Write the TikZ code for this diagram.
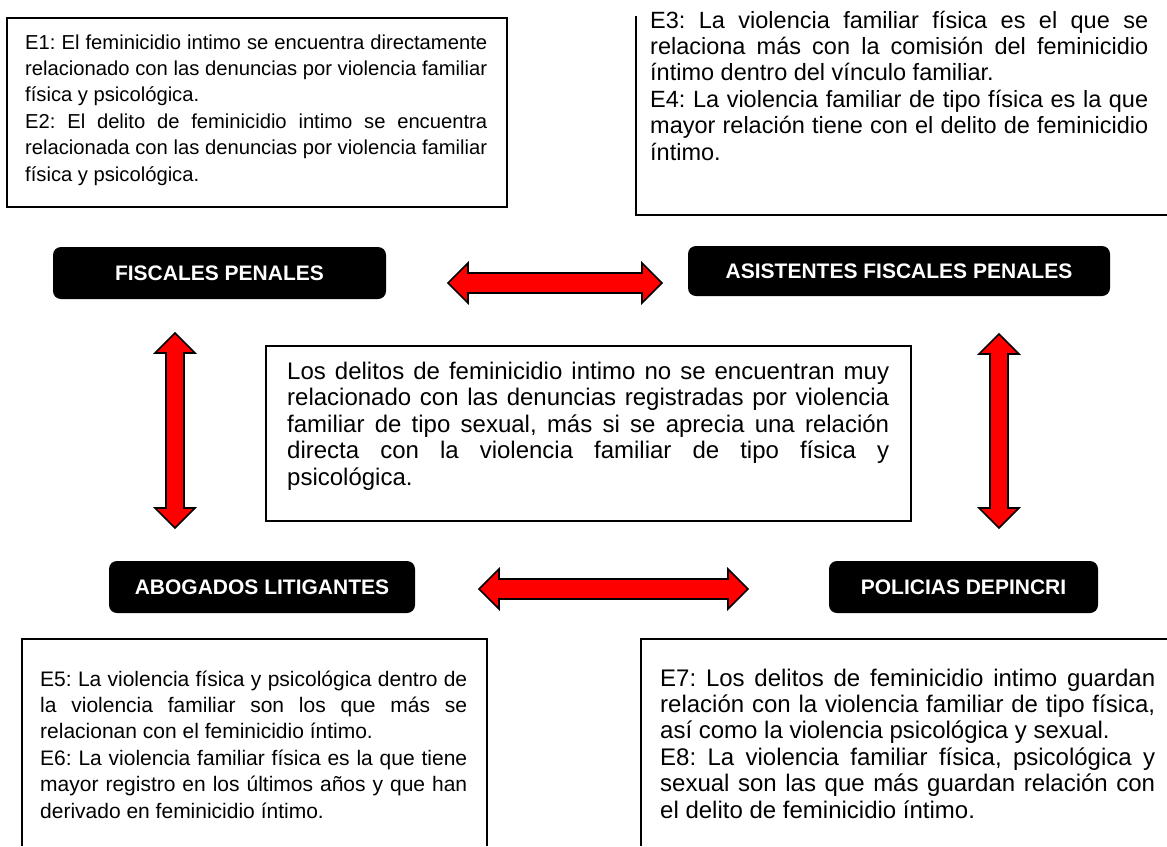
\documentclass[tikz,border=0pt]{standalone}
\usepackage{fontspec}
\setmainfont{Liberation Sans}
\usetikzlibrary{calc}
\hbadness=10000
\frenchspacing
\tikzset{
  txtbox/.style={draw=black, line width=1.6pt, line join=miter},
  lab/.style={fill=black, rounded corners=8pt, text=white, inner sep=0pt,
    font=\bfseries\fontsize{21}{25}\selectfont},
  redarrow/.style={draw=black, fill=red, line width=1.6pt, line join=miter},
  para/.style={anchor=base west, inner sep=0pt},
}
\newcommand\JL[2]{\hbox to #1{#2}}
\newcommand\LL[1]{\hbox{#1}}
\begin{document}
\begin{tikzpicture}[x=1pt,y=-1pt]
\useasboundingbox (0,0) rectangle (1167,846);
\fill[white] (0,0) rectangle (1167,846);

% text boxes
\draw[txtbox] (7,18) rectangle (507,207);
\draw[txtbox] (636,16) -- (636,215) -- (1167,215);
\draw[txtbox] (266,346) rectangle (911,521);
\draw[txtbox] (22,846) -- (22,639) -- (487,639) -- (487,846);
\draw[txtbox] (641,846) -- (641,639) -- (1167,639);

\node[para, font=\fontsize{20.2}{26.4}\selectfont] (t12) at (25,49) {\vtop{%
\JL{462pt}{E1: El feminicidio intimo se encuentra directamente}
\JL{462pt}{relacionado con las denuncias por violencia familiar}
\LL{física y psicológica.}
\JL{462pt}{E2: El delito de feminicidio intimo se encuentra}
\JL{462pt}{relacionada con las denuncias por violencia familiar}
\LL{física y psicológica.}}};

\node[para, font=\fontsize{23.5}{26.4}\selectfont] (t34) at (650,28) {\vtop{%
\JL{498pt}{E3: La violencia familiar física es el que se}
\JL{498pt}{relaciona más con la comisión del feminicidio}
\LL{íntimo dentro del vínculo familiar.}
\JL{498pt}{E4: La violencia familiar de tipo física es la que}
\JL{498pt}{mayor relación tiene con el delito de feminicidio}
\LL{íntimo.}}};

\node[para, font=\fontsize{24}{26.5}\selectfont] (tc) at (287,379) {\vtop{%
\JL{602pt}{Los delitos de feminicidio intimo no se encuentran muy}
\JL{602pt}{relacionado con las denuncias registradas por violencia}
\JL{602pt}{familiar de tipo sexual, más si se aprecia una relación}
\JL{602pt}{directa con la violencia familiar de tipo física y}
\LL{psicológica.}}};

\node[para, font=\fontsize{21}{26.4}\selectfont] (t56) at (40,686) {\vtop{%
\JL{427pt}{E5: La violencia física y psicológica dentro de}
\JL{427pt}{la violencia familiar son los que más se}
\LL{relacionan con el feminicidio íntimo.}
\JL{427pt}{E6: La violencia familiar física es la que tiene}
\JL{427pt}{mayor registro en los últimos años y que han}
\LL{derivado en feminicidio íntimo.}}};

\node[para, font=\fontsize{24}{26.4}\selectfont] (t78) at (660,686) {\vtop{%
\JL{495pt}{E7: Los delitos de feminicidio intimo guardan}
\JL{495pt}{relación con la violencia familiar de tipo física,}
\LL{así como la violencia psicológica y sexual.}
\JL{495pt}{E8: La violencia familiar física, psicológica y}
\JL{495pt}{sexual son las que más guardan relación con}
\LL{el delito de feminicidio íntimo.}}};

% labels
\node[lab, minimum width=333pt, minimum height=52pt] (fp) at (219.5,273) {FISCALES PENALES};
\node[lab, minimum width=422pt, minimum height=50pt] (afp) at (899,271) {ASISTENTES FISCALES PENALES};
\node[lab, minimum width=306pt, minimum height=52pt] (al) at (262,587) {ABOGADOS LITIGANTES};
\node[lab, minimum width=269pt, minimum height=52pt] (pd) at (963.5,587) {POLICIAS DEPINCRI};

% arrow end points
\coordinate (h1a) at (448,283);
\coordinate (h1b) at (662,283);
\coordinate (h2a) at (479,589);
\coordinate (h2b) at (748,589);
\coordinate (v1a) at (175,333);
\coordinate (v1b) at (175,528);
\coordinate (v2a) at (999,334);
\coordinate (v2b) at (999,528);

% horizontal double arrows
\foreach \s/\e in {h1a/h1b, h2a/h2b}{
\draw[redarrow] let \p1=(\s), \p2=(\e) in
  (\x1,\y1) -- (\x1+20pt,\y1+20pt) -- (\x1+20pt,\y1+10pt) -- (\x2-20pt,\y2+10pt)
  -- (\x2-20pt,\y2+20pt) -- (\x2,\y2) -- (\x2-20pt,\y2-20pt) -- (\x2-20pt,\y2-10pt)
  -- (\x1+20pt,\y1-10pt) -- (\x1+20pt,\y1-20pt) -- cycle;
}
% vertical double arrows
\foreach \s/\e in {v1a/v1b, v2a/v2b}{
\draw[redarrow] let \p1=(\s), \p2=(\e) in
  (\x1,\y1) -- (\x1+20pt,\y1-20pt) -- (\x1+9pt,\y1-20pt) -- (\x2+9pt,\y2+20pt)
  -- (\x2+20pt,\y2+20pt) -- (\x2,\y2) -- (\x2-20pt,\y2+20pt) -- (\x2-9pt,\y2+20pt)
  -- (\x1-9pt,\y1-20pt) -- (\x1-20pt,\y1-20pt) -- cycle;
}
\end{tikzpicture}
\end{document}
